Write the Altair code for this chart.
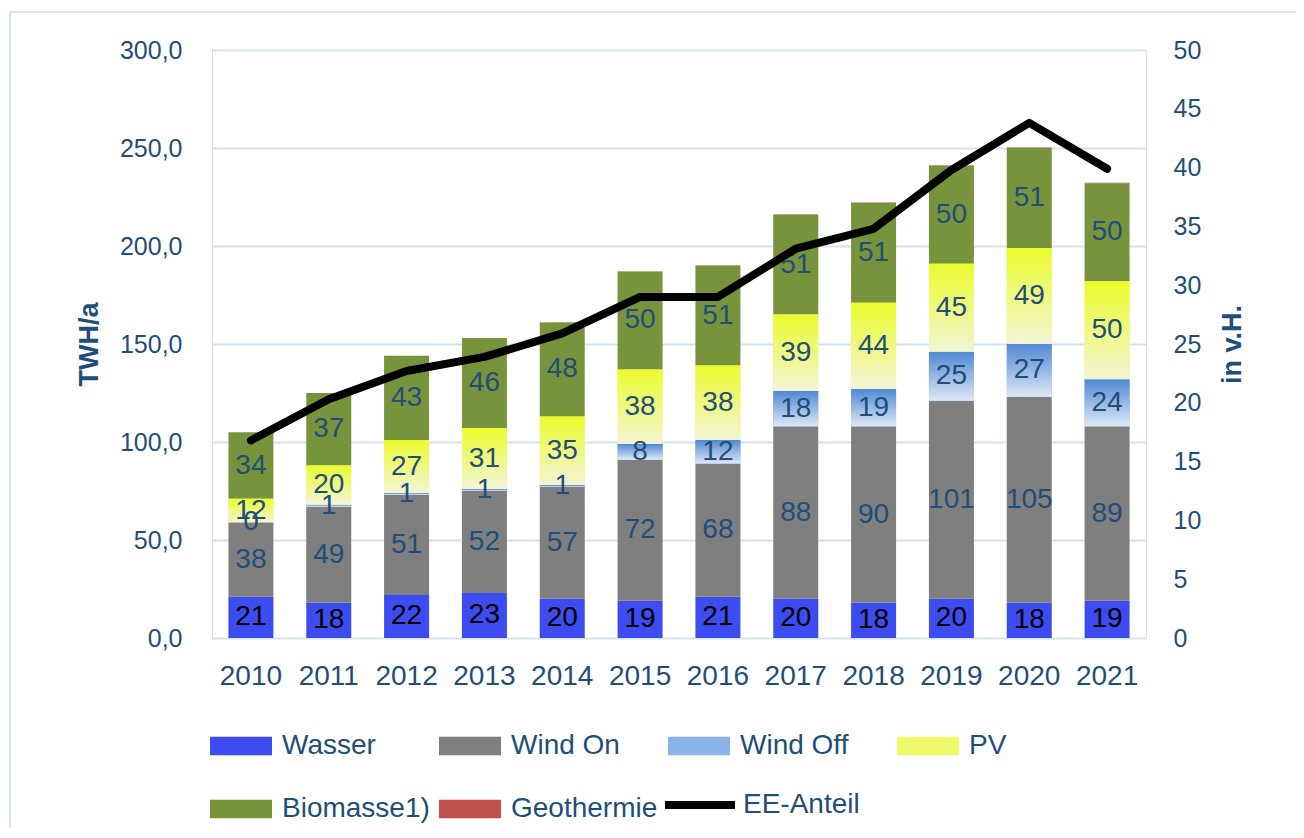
import altair as alt
import pandas as pd

years = [str(y) for y in range(2010, 2022)]
wasser = [21, 18, 22, 23, 20, 19, 21, 20, 18, 20, 18, 19]
wind_on = [38, 49, 51, 52, 57, 72, 68, 88, 90, 101, 105, 89]
wind_off = [0, 1, 1, 1, 1, 8, 12, 18, 19, 25, 27, 24]
pv = [12, 20, 27, 31, 35, 38, 38, 39, 44, 45, 49, 50]
biomasse = [34, 37, 43, 46, 48, 50, 51, 51, 51, 50, 51, 50]
geothermie = [0.03, 0.02, 0.03, 0.08, 0.1, 0.13, 0.18, 0.16, 0.18, 0.2, 0.23, 0.24]
ee_anteil = [16.8, 20.3, 22.7, 23.9, 25.9, 29.0, 29.0, 33.1, 34.8, 39.8, 43.8, 39.9]

series_names = ["Wasser", "Wind On", "Wind Off", "PV", "Biomasse1)", "Geothermie"]
series_values = [wasser, wind_on, wind_off, pv, biomasse, geothermie]
series_colors = ["#3d4cf0", "#7f7f7f", "#8ab3e6", "#eff76a", "#77933c", "#c0504d"]

rows = []
for i, (name, vals) in enumerate(zip(series_names, series_values)):
    for y, v in zip(years, vals):
        rows.append({"year": y, "series": name, "value": v, "order": i})
df = pd.DataFrame(rows)
df_line = pd.DataFrame({"year": years, "ee": ee_anteil, "name": ["EE-Anteil"] * len(years)})
df_box = pd.DataFrame({"k": [0]})

FONT = "Liberation Sans"
TXT = "#1f4e79"
BAR_SIZE = 45

x_enc = alt.X(
    "year:N",
    sort=years,
    scale=alt.Scale(paddingInner=0.42, paddingOuter=0.21),
    axis=alt.Axis(
        title=None, labelAngle=0, labelFontSize=28, labelColor=TXT, labelFont=FONT,
        labelPadding=24, domain=False, ticks=False,
    ),
)

base = alt.Chart(df).transform_stack(
    stack="value", groupby=["year"], as_=["y0", "y1"],
    sort=[alt.SortField("order", order="ascending")],
)

y_left = alt.Y(
    "y0:Q",
    scale=alt.Scale(domain=[0, 300], nice=False),
    axis=alt.Axis(
        values=[0, 50, 100, 150, 200, 250, 300],
        labelExpr="replace(format(datum.value, '.1f'), '.', ',')",
        labelFontSize=25, labelColor=TXT, labelFont=FONT, labelPadding=30,
        domain=False, ticks=False, grid=True, gridColor="#d3e1f0", gridWidth=2,
        title="TWH/a", titleFontSize=27, titleFontWeight="bold", titleColor=TXT,
        titleFont=FONT, titlePadding=16,
    ),
)

bars = base.mark_bar(size=BAR_SIZE).encode(
    x=x_enc,
    y=y_left,
    y2="y1:Q",
    color=alt.Color(
        "series:N",
        scale=alt.Scale(domain=series_names, range=series_colors),
        legend=alt.Legend(
            title=None, orient="none", legendX=-2, legendY=665, columns=4,
            direction="horizontal",
            symbolType="M-1,-0.3H1V0.3H-1Z", symbolSize=3844, symbolStrokeWidth=0,
            symbolOpacity=1, labelFontSize=28, labelColor=TXT, labelFont=FONT,
            labelOffset=10, columnPadding=9, rowPadding=18, gridAlign="all",
        ),
    ),
)

grad_off = {
    "gradient": "linear", "x1": 0, "x2": 0, "y1": 0, "y2": 1,
    "stops": [{"offset": 0, "color": "#5088d3"}, {"offset": 1, "color": "#dde8f6"}],
}
grad_pv = {
    "gradient": "linear", "x1": 0, "x2": 0, "y1": 0, "y2": 1,
    "stops": [{"offset": 0, "color": "#ebfc2c"}, {"offset": 1, "color": "#f3f4d6"}],
}

bars_off = base.transform_filter("datum.series == 'Wind Off'").mark_bar(
    size=BAR_SIZE, color=grad_off
).encode(x=alt.X("year:N", sort=years), y="y0:Q", y2="y1:Q")

bars_pv = base.transform_filter("datum.series == 'PV'").mark_bar(
    size=BAR_SIZE, color=grad_pv
).encode(x=alt.X("year:N", sort=years), y="y0:Q", y2="y1:Q")

labels = base.transform_filter("datum.series != 'Geothermie'").transform_calculate(
    mid="(datum.y0 + datum.y1) / 2"
).mark_text(font=FONT, fontSize=28, baseline="middle", align="center").encode(
    x=alt.X("year:N", sort=years),
    y=alt.Y("mid:Q"),
    text=alt.Text("value:Q", format=".0f"),
    color=alt.condition("datum.series == 'Wasser'", alt.value("#000000"), alt.value(TXT)),
)

left_group = alt.layer(bars, bars_off, bars_pv, labels)

line = alt.Chart(df_line).mark_line(
    strokeWidth=8, strokeCap="round", strokeJoin="round"
).encode(
    x=alt.X("year:N", sort=years),
    y=alt.Y(
        "ee:Q",
        scale=alt.Scale(domain=[0, 50], nice=False),
        axis=alt.Axis(
            orient="right", values=list(range(0, 55, 5)),
            labelFontSize=25, labelColor=TXT, labelFont=FONT, labelPadding=27,
            domain=False, ticks=False, grid=False,
            title="in v.H.", titleFontSize=27, titleFontWeight="bold", titleColor=TXT,
            titleFont=FONT, titlePadding=46, titleAngle=270,
        ),
    ),
    stroke=alt.Stroke(
        "name:N",
        scale=alt.Scale(domain=["EE-Anteil"], range=["#000000"]),
        legend=alt.Legend(
            title=None, orient="none", legendX=449, legendY=716,
            symbolType="stroke", symbolSize=4900, symbolStrokeWidth=8,
            labelFontSize=28, labelColor=TXT, labelFont=FONT, labelOffset=4,
        ),
    ),
)

border = alt.Chart(df_box).mark_rect(
    fill="transparent", stroke="#d6e3f3", strokeWidth=2
).encode(
    x=alt.value(-202), x2=alt.value(1086), y=alt.value(-38), y2=alt.value(800)
)

chart = alt.layer(border, left_group, line).resolve_scale(
    y="independent"
).properties(
    width=934, height=588,
    padding={"left": 204, "top": 42, "right": 150, "bottom": 190},
    autosize=alt.AutoSizeParams(type="none"),
    background="white",
).configure_view(strokeWidth=0).configure(font=FONT)

chart.save("out.html", embed_options={"renderer": "svg", "actions": False})
